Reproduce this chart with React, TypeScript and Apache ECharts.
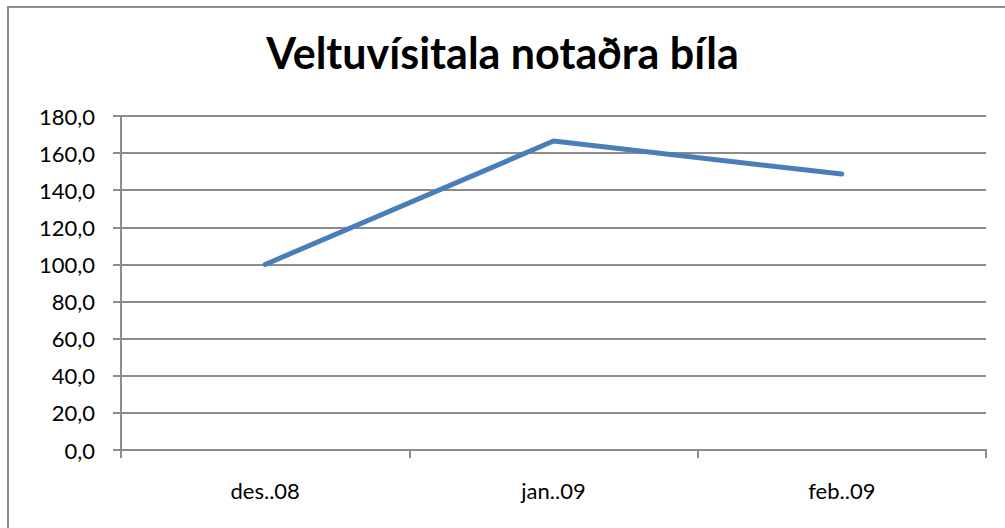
import React, { useEffect, useRef } from "react";
import * as echarts from "echarts";

const categories = ["des..08", "jan..09", "feb..09"];
const values = [100.0, 166.5, 148.7];
const yMin = 0;
const yMax = 180;
const yStep = 20;
const titleText = "Veltuvísitala notaðra bíla";

export default function App() {
  const ref = useRef<HTMLDivElement>(null);
  useEffect(() => {
    document.body.style.margin = "0";
    const chart = echarts.init(ref.current!, null, { renderer: "svg" });
    const grey = "#8c8c8c";
    chart.setOption({
      animation: false,
      backgroundColor: "#ffffff",
      title: {
        text: titleText,
        left: "center",
        top: 26,
        textStyle: {
          fontFamily: "Lato",
          fontWeight: "bold",
          fontSize: 43,
          color: "#000000",
        },
      },
      graphic: [
        {
          type: "rect",
          shape: { x: 8, y: 7, width: 1200, height: 700 },
          style: { fill: "none", stroke: grey, lineWidth: 2 },
          silent: true,
        },
      ],
      grid: { left: 121, right: 19, top: 116, bottom: 78, containLabel: false },
      xAxis: {
        type: "category",
        data: categories,
        boundaryGap: true,
        axisLine: { show: true, lineStyle: { color: grey, width: 2 } },
        axisTick: { show: true, length: 8, lineStyle: { color: grey, width: 2 } },
        axisLabel: {
          margin: 29,
          fontFamily: "Lato",
          fontSize: 22,
          color: "#000000",
        },
        splitLine: { show: false },
      },
      yAxis: {
        type: "value",
        min: yMin,
        max: yMax,
        interval: yStep,
        axisLine: { show: true, lineStyle: { color: grey, width: 2 } },
        axisTick: { show: true, length: 8, lineStyle: { color: grey, width: 2 } },
        axisLabel: {
          margin: 26,
          fontFamily: "Lato",
          fontSize: 22,
          color: "#000000",
          formatter: (v: number) => v.toFixed(1).replace(".", ","),
        },
        splitLine: { show: true, lineStyle: { color: grey, width: 2 } },
      },
      series: [
        {
          type: "line",
          data: values,
          symbol: "none",
          lineStyle: { color: "#4a7ebb", width: 5, cap: "round", join: "round" },
        },
      ],
    });
    return () => chart.dispose();
  }, []);
  return <div ref={ref} style={{ width: 1005, height: 528 }} />;
}
